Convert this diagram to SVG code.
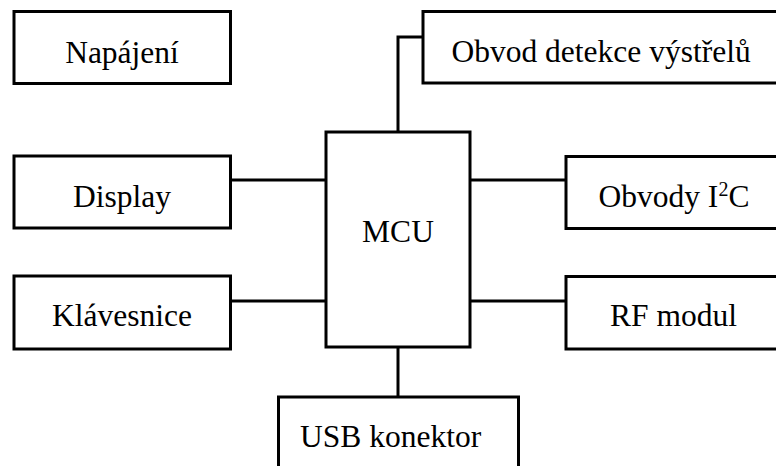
<svg xmlns="http://www.w3.org/2000/svg" width="776" height="466" viewBox="0 0 776 466">
<style>
.box{fill:#fff;stroke:#000;stroke-width:3}
.ln{fill:none;stroke:#000;stroke-width:3}
text{font-family:"Liberation Serif","Times New Roman",serif;font-size:31.5px;fill:#000}
.c{text-anchor:middle}
</style>
<rect width="776" height="466" fill="#fff"/>
<g id="connectors">
<polyline class="ln" points="398,132 398,37 423,37"/>
<line class="ln" x1="230.5" y1="180" x2="326" y2="180"/>
<line class="ln" x1="230.5" y1="301" x2="326" y2="301"/>
<line class="ln" x1="470" y1="180" x2="566" y2="180"/>
<line class="ln" x1="470" y1="301" x2="566" y2="301"/>
<line class="ln" x1="398" y1="347" x2="398" y2="397"/>
</g>
<g id="napajeni"><rect class="box" x="14" y="11.5" width="216.5" height="72"/><text class="c" x="122" y="63">Napájení</text></g>
<g id="obvod-detekce"><rect class="box" x="423" y="11.5" width="370" height="71.5"/><text x="451.5" y="62">Obvod detekce výstřelů</text></g>
<g id="mcu"><rect class="box" x="326" y="132" width="144" height="215"/><text class="c" x="398" y="242">MCU</text></g>
<g id="display"><rect class="box" x="14" y="156" width="216.5" height="72"/><text class="c" x="122" y="207">Display</text></g>
<g id="obvody-i2c"><rect class="box" x="566" y="156.5" width="230" height="72"/><text x="598.5" y="207">Obvody I<tspan font-size="20" dy="-11">2</tspan><tspan dy="11">C</tspan></text></g>
<g id="klavesnice"><rect class="box" x="14" y="276" width="216.5" height="73"/><text class="c" x="122" y="326">Klávesnice</text></g>
<g id="rf-modul"><rect class="box" x="566" y="276.5" width="230" height="72.5"/><text x="610" y="326">RF modul</text></g>
<g id="usb"><rect class="box" x="278.5" y="397" width="240" height="90"/><text x="300" y="447">USB konektor</text></g>
</svg>
